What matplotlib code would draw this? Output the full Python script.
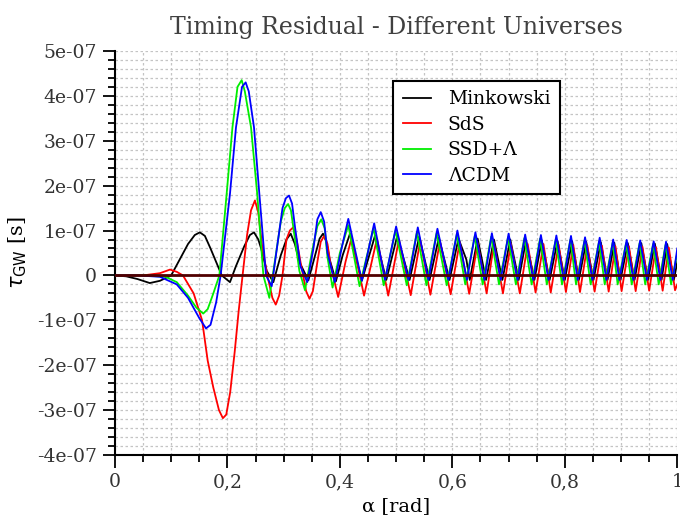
import matplotlib
matplotlib.use('Agg')
from matplotlib import pyplot as plt
from matplotlib.ticker import MultipleLocator, FuncFormatter

# values: alpha [rad], tau [1e-7 s]
mink_x = [0, 0.02, 0.04, 0.062, 0.08, 0.1, 0.115, 0.13, 0.142, 0.151, 0.16, 0.17, 0.18, 0.19, 0.2046, 0.215,
          0.23, 0.24, 0.2473, 0.255, 0.26, 0.27, 0.2817, 0.295, 0.305, 0.3126, 0.32, 0.328, 0.344, 0.356, 0.364,
          0.37, 0.376, 0.382, 0.393, 0.405, 0.418, 0.439, 0.4626, 0.4826, 0.502, 0.524, 0.541, 0.5595, 0.576,
          0.595, 0.611, 0.625, 0.631, 0.645, 0.66, 0.674, 0.689, 0.703, 0.718, 0.731, 0.746, 0.759, 0.773, 0.787,
          0.8, 0.813, 0.825, 0.838, 0.851, 0.864, 0.876, 0.888, 0.899, 0.912, 0.924, 0.936, 0.948, 0.96, 0.972,
          0.982, 0.994, 1.0]
mink_y = [0, -0.02, -0.08, -0.17, -0.12, 0.0, 0.35, 0.7, 0.9, 0.96, 0.88, 0.6, 0.3, 0.0, -0.15, 0.2,
          0.65, 0.9, 0.96, 0.8, 0.6, 0.1, -0.15, 0.45, 0.8, 0.93, 0.7, 0.3, -0.11, 0.45, 0.82,
          0.93, 0.75, 0.35, -0.13, 0.45, 0.93, -0.12, 0.89, -0.1, 0.88, -0.1, 0.86, -0.1, 0.84,
          -0.1, 0.82, 0.35, -0.1, 0.82, -0.1, 0.8, -0.1, 0.8, -0.1, 0.78, -0.1, 0.78, -0.1, 0.77,
          -0.1, 0.76, -0.1, 0.75, -0.1, 0.74, -0.1, 0.73, -0.1, 0.72, -0.1, 0.72, -0.1, 0.71, -0.1,
          0.7, -0.1, 0.3]

sds_x = [0, 0.05, 0.08, 0.098, 0.11, 0.121, 0.14, 0.155, 0.165, 0.175, 0.185, 0.192, 0.198, 0.205, 0.213, 0.22,
         0.227, 0.235, 0.242, 0.249, 0.255, 0.262, 0.271, 0.28, 0.286, 0.292, 0.298, 0.305, 0.311, 0.317, 0.323,
         0.33, 0.34, 0.346, 0.352, 0.36, 0.366, 0.372, 0.378, 0.384, 0.397, 0.41, 0.421, 0.443, 0.466, 0.486,
         0.505, 0.526, 0.543, 0.561, 0.578, 0.597, 0.613, 0.63, 0.645, 0.661, 0.674, 0.69, 0.704, 0.72, 0.734,
         0.748, 0.762, 0.775, 0.789, 0.802, 0.815, 0.827, 0.84, 0.853, 0.866, 0.878, 0.89, 0.901, 0.914, 0.926,
         0.938, 0.95, 0.962, 0.974, 0.985, 0.996, 1.0]
sds_y = [0, 0.0, 0.05, 0.13, 0.08, 0.0, -0.4, -1.0, -1.9, -2.5, -3.0, -3.18, -3.1, -2.6, -1.7, -0.8,
         0.0, 0.9, 1.45, 1.67, 1.4, 0.63, 0.0, -0.5, -0.65, -0.45, 0.0, 0.8, 1.0, 1.07, 0.8,
         0.3, -0.35, -0.52, -0.35, 0.3, 0.75, 0.88, 0.7, 0.2, -0.48, 0.3, 0.85, -0.45, 0.82, -0.45,
         0.8, -0.44, 0.78, -0.43, 0.76, -0.42, 0.74, -0.41, 0.72, -0.4, 0.72, -0.4, 0.71, -0.4, 0.7,
         -0.38, 0.7, -0.38, 0.69, -0.37, 0.68, -0.37, 0.67, -0.36, 0.66, -0.36, 0.65, -0.35, 0.65, -0.35,
         0.64, -0.34, 0.63, -0.34, 0.62, -0.33, -0.2]

ssd_x = [0, 0.05, 0.09, 0.11, 0.13, 0.145, 0.157, 0.165, 0.175, 0.1857, 0.1987, 0.209, 0.218, 0.2254, 0.231,
         0.242, 0.253, 0.264, 0.2746, 0.283, 0.295, 0.302, 0.308, 0.313, 0.318, 0.328, 0.338, 0.35, 0.36, 0.367,
         0.373, 0.378, 0.387, 0.4, 0.415, 0.435, 0.46, 0.478, 0.499, 0.519, 0.537, 0.554, 0.572, 0.59, 0.608,
         0.623, 0.64, 0.654, 0.669, 0.683, 0.699, 0.713, 0.728, 0.741, 0.756, 0.768, 0.784, 0.795, 0.81, 0.82,
         0.835, 0.846, 0.861, 0.871, 0.885, 0.894, 0.909, 0.919, 0.933, 0.943, 0.957, 0.967, 0.979, 0.989, 1.0]
ssd_y = [0, 0.0, -0.03, -0.15, -0.45, -0.72, -0.85, -0.75, -0.4, 0.0, 1.82, 3.3, 4.2, 4.35, 4.1,
         3.3, 1.82, 0.0, -0.5, 0.2, 1.2, 1.5, 1.59, 1.45, 1.0, 0.1, -0.33, 0.5, 1.1, 1.25,
         1.05, 0.4, -0.27, 0.5, 1.12, -0.24, 1.05, -0.22, 1.0, -0.22, 0.97, -0.22, 0.95, -0.22, 0.92,
         -0.2, 0.88, -0.2, 0.86, -0.2, 0.85, -0.2, 0.83, -0.2, 0.82, -0.2, 0.8, -0.2, 0.8, -0.2,
         0.78, -0.2, 0.76, -0.2, 0.73, -0.2, 0.72, -0.2, 0.72, -0.2, 0.7, -0.2, 0.68, -0.2, 0.5]

lcdm_x = [0, 0.04, 0.08, 0.11, 0.13, 0.15, 0.162, 0.17, 0.18, 0.188, 0.2046, 0.2153, 0.226, 0.2325, 0.238,
          0.2473, 0.2568, 0.2687, 0.2788, 0.288, 0.298, 0.304, 0.3096, 0.315, 0.32, 0.33, 0.342, 0.353, 0.36,
          0.366, 0.372, 0.378, 0.391, 0.403, 0.415, 0.439, 0.461, 0.4804, 0.5, 0.522, 0.5386, 0.5575, 0.5735,
          0.593, 0.609, 0.626, 0.641, 0.657, 0.6703, 0.686, 0.7, 0.716, 0.7295, 0.744, 0.7575, 0.771, 0.785,
          0.798, 0.811, 0.823, 0.836, 0.849, 0.862, 0.874, 0.886, 0.897, 0.91, 0.922, 0.934, 0.946, 0.958, 0.97,
          0.98, 0.992, 1.0]
lcdm_y = [0, 0.0, -0.03, -0.2, -0.5, -0.95, -1.18, -1.1, -0.6, 0.0, 1.82, 3.3, 4.2, 4.3, 4.1,
          3.3, 1.82, 0.0, -0.24, 0.6, 1.5, 1.72, 1.78, 1.6, 1.1, 0.2, -0.15, 0.6, 1.25,
          1.41, 1.2, 0.5, -0.15, 0.6, 1.26, -0.12, 1.16, -0.1, 1.09, -0.1, 1.07, -0.1, 1.04,
          -0.1, 1.0, -0.1, 0.96, -0.1, 0.94, -0.1, 0.93, -0.1, 0.91, -0.1, 0.9, -0.1, 0.89,
          -0.1, 0.88, -0.1, 0.85, -0.1, 0.84, -0.1, 0.8, -0.1, 0.79, -0.1, 0.78, -0.1, 0.76, -0.1,
          0.75, -0.1, 0.6]

labels = ['Minkowski', 'SdS', 'SSD+Λ', 'ΛCDM']
colors = ['#000000', '#ff0000', '#00ee00', '#0000ff']

plt.rcParams['font.family'] = ['DejaVu Serif']
plt.rcParams['mathtext.fontset'] = 'dejavusans'

fig = plt.figure(figsize=(6.8, 5.2), dpi=100)
ax = fig.add_axes([0.169, 0.125, 0.827, 0.777])

series = [(mink_x, mink_y), (sds_x, sds_y), (ssd_x, ssd_y), (lcdm_x, lcdm_y)]
for (xs, ys), lab, c in zip(series, labels, colors):
    ax.plot(xs, [v * 1e-7 for v in ys], color=c, lw=1.3, label=lab, zorder=3, solid_joinstyle='round')

ax.axhline(0, color='#500000', lw=2, zorder=4)

ax.set_xlim(0, 1)
ax.set_ylim(-4e-7, 5e-7)
ax.xaxis.set_major_locator(MultipleLocator(0.2))
ax.xaxis.set_minor_locator(MultipleLocator(0.05))
ax.yaxis.set_major_locator(MultipleLocator(1e-7))
ax.yaxis.set_minor_locator(MultipleLocator(2e-8))
ax.xaxis.set_major_formatter(FuncFormatter(lambda v, p: ('%g' % round(v, 2)).replace('.', ',')))
ax.yaxis.set_major_formatter(FuncFormatter(lambda v, p: '0' if abs(v) < 1e-12 else '%.0e' % v))
ax.yaxis.get_offset_text().set_visible(False)

ax.grid(True, which='both', color='#c4c4c4', ls=(0, (2, 2)), lw=0.9)
ax.set_axisbelow(True)
for s in ['top', 'right']:
    ax.spines[s].set_visible(False)
for s in ['left', 'bottom']:
    ax.spines[s].set_linewidth(1.5)
ax.tick_params(which='both', direction='out', width=1.3, labelsize=13.5, labelcolor='#333333')
ax.tick_params(which='major', length=9, pad=4)
ax.tick_params(which='minor', length=5)

ax.set_title('Timing Residual - Different Universes', fontsize=17, color='#404040', pad=12)
ax.set_xlabel('α [rad]', fontsize=14, labelpad=4)
ax.set_ylabel(r'$\tau_{\mathrm{GW}}$ [s]', fontsize=15, labelpad=6)

leg = ax.legend(loc='upper left', bbox_to_anchor=(0.495, 0.926), borderaxespad=0, fancybox=False,
                edgecolor='black', framealpha=1, fontsize=13.5, handlelength=1.5, labelspacing=0.4,
                borderpad=0.5, handletextpad=0.9)
leg.get_frame().set_linewidth(1.5)

fig.savefig('out.png')
